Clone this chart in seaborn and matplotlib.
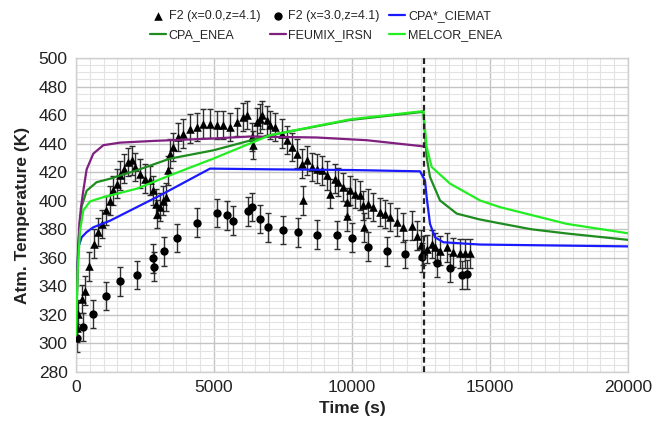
import numpy as np
import pandas as pd
import matplotlib
matplotlib.use("Agg")
import matplotlib.pyplot as plt
from matplotlib.ticker import MultipleLocator
import seaborn as sns

# ---- measured temperatures, F2 sensor at x=0.0, z=4.1 ----
tri_t = [24, 84, 206, 326, 482, 663, 808, 931, 1087, 1232, 1351, 1474, 1594, 1751,
         1896, 2017, 2138, 2319, 2500, 2681, 2802, 2899, 2947, 3043, 3164, 3261,
         3345, 3406, 3526, 3707, 3889, 4130, 4372, 4613, 4855, 5097, 5338, 5580,
         5821, 6063, 6184, 6365, 6401, 6546, 6667, 6727, 6908, 7029, 7210, 7452,
         7633, 7814, 7995, 8176, 8213, 8357, 8539, 8720, 8901, 9083, 9203, 9384,
         9504, 9685, 9806, 9830, 9928, 10109, 10290, 10410, 10446, 10591, 10772,
         11014, 11196, 11377, 11618, 11860, 12162, 12344, 12489, 12585, 12705,
         12887, 13007, 13188, 13430, 13671, 13913, 14094, 14275]
tri_T = [310.7, 320.5, 331.0, 337.0, 354.0, 370.0, 378.0, 383.8, 393.2, 400.0, 407.2,
         411.9, 417.8, 422.5, 427.1, 428.3, 423.6, 419.0, 415.4, 414.2, 407.2, 397.9,
         390.8, 395.5, 400.0, 402.5, 421.3, 433.0, 437.7, 444.7, 447.1, 450.6, 451.7,
         454.0, 454.0, 452.9, 452.9, 451.7, 455.2, 458.7, 460.0, 444.7, 438.9, 455.2,
         457.6, 460.0, 456.4, 452.9, 451.7, 447.0, 442.4, 437.7, 433.0, 426.0, 400.2,
         428.3, 423.6, 422.5, 421.3, 417.8, 404.9, 415.4, 413.1, 409.5, 399.0, 389.0,
         407.2, 404.9, 403.7, 396.7, 381.4, 397.9, 395.5, 392.0, 390.8, 388.5, 385.0,
         381.4, 382.6, 375.6, 369.3, 365.0, 366.2, 369.8, 367.4, 365.0, 367.4, 363.9,
         363.2, 363.2, 363.2]

# ---- measured temperatures, F2 sensor at x=3.0, z=4.1 ----
cir_t = [47, 266, 604, 1075, 1594, 2222, 2802, 2814, 3200, 3671, 4372, 5097, 5483,
         5700, 6220, 6388, 6667, 6967, 7488, 8056, 8744, 9444, 9988, 10591, 11280,
         11920, 12524, 13068, 13551, 13998, 14179]
cir_T = [303.7, 311.6, 320.5, 333.4, 343.5, 348.0, 359.6, 353.8, 364.6, 374.0, 384.7,
         391.3, 389.7, 386.0, 392.5, 395.5, 387.3, 381.4, 379.6, 377.9, 376.3, 376.0,
         374.2, 367.9, 364.6, 362.7, 360.4, 356.4, 352.9, 348.0, 348.4]

meas_err = 10.0  # K, measurement uncertainty

# ---- code predictions ----
ciemat_t = [0, 40, 84, 205, 386, 628, 1232, 3043, 4855, 7000, 10000, 12464, 12645,
            12705, 12826, 13007, 13309, 14638, 20000]
ciemat_T = [310, 345, 367.4, 374.4, 378, 381.4, 386, 403.7, 422.5, 422, 421.5, 420.6,
            414.2, 402.5, 383.8, 374.4, 370.9, 369.3, 368]

enea_t = [0, 80, 205, 386, 749, 1232, 2198, 3406, 4975, 7029, 9900, 12585, 12705,
          12826, 13188, 13793, 14600, 15400, 16500, 17800, 20000]
enea_T = [308, 370, 396, 407, 413, 415.4, 421.3, 429.5, 435.3, 445.9, 456.5, 462.3,
          430.6, 416.6, 400.2, 391.0, 387.0, 384.0, 380.0, 377.0, 372.6]

feumix_t = [0, 60, 121, 181, 266, 386, 628, 990, 1594, 2800, 4975, 6304, 8720, 10531,
            12585]
feumix_T = [305, 355, 383.8, 395.5, 407.2, 422, 433, 438.9, 440.7, 441.9, 443.6,
            445.0, 444.3, 442.4, 438.1]

melcor_t = [0, 60, 145, 266, 507, 990, 2198, 3406, 4975, 7029, 9928, 12585, 12705,
            12887, 13551, 14638, 15362, 17778, 20000]
melcor_T = [306, 350, 379, 393.2, 399.5, 402.5, 408.4, 417.8, 429.5, 445.9, 457.0,
            462.8, 437.7, 423.6, 412.0, 400.2, 395.5, 383.8, 377.2]

t_end_injection = 12600  # s

sns.set_theme(style="white")
plt.rcParams["font.family"] = ["Liberation Sans", "DejaVu Sans"]

fig = plt.figure(figsize=(6.56, 4.28), dpi=100)
ax = fig.add_axes([76 / 656, 1 - 372 / 428, 552 / 656, 314 / 428])

# grid
ax.xaxis.set_major_locator(MultipleLocator(5000))
ax.xaxis.set_minor_locator(MultipleLocator(500))
ax.yaxis.set_major_locator(MultipleLocator(20))
ax.yaxis.set_minor_locator(MultipleLocator(5))
ax.grid(which="minor", color="#e3e3e3", lw=0.8)
ax.grid(which="major", color="#c4c4c4", lw=1.0)
ax.set_axisbelow(True)
for s in ax.spines.values():
    s.set_color("#cfcfcf")
    s.set_linewidth(1.0)

# measurements with error bars
meas_tri = pd.DataFrame({"t": tri_t, "T": tri_T})
meas_cir = pd.DataFrame({"t": cir_t, "T": cir_T})
ax.errorbar(meas_tri["t"], meas_tri["T"], yerr=meas_err, fmt="none",
            ecolor="#2e2e2e", elinewidth=1.0, capsize=2.2, capthick=1.0, zorder=2)
ax.errorbar(meas_cir["t"], meas_cir["T"], yerr=meas_err, fmt="none",
            ecolor="#2e2e2e", elinewidth=1.0, capsize=2.2, capthick=1.0, zorder=2)
sns.scatterplot(data=meas_tri, x="t", y="T", marker="^", s=38, color="black",
                edgecolor="black", linewidth=0, label="F2 (x=0.0,z=4.1)", ax=ax,
                zorder=3)
sns.scatterplot(data=meas_cir, x="t", y="T", marker="o", s=36, color="black",
                edgecolor="black", linewidth=0, label="F2 (x=3.0,z=4.1)", ax=ax,
                zorder=3)

# model curves
models = [
    ("CPA*_CIEMAT", ciemat_t, ciemat_T, "#1a1aff"),
    ("CPA_ENEA", enea_t, enea_T, "#1e8c1e"),
    ("FEUMIX_IRSN", feumix_t, feumix_T, "#7f1f7f"),
    ("MELCOR_ENEA", melcor_t, melcor_T, "#22ee22"),
]
for name, tt, TT, col in models:
    sns.lineplot(x=tt, y=TT, color=col, lw=1.6, label=name, ax=ax,
                 sort=False, estimator=None, zorder=4)

ax.axvline(t_end_injection, color="#222222", lw=1.6, dashes=(2.6, 1.6), zorder=5)

ax.set_xlim(0, 20000)
ax.set_ylim(280, 500)
ax.tick_params(axis="both", which="both", length=0, labelsize=12.5,
               colors="#222222", pad=6)
ax.set_xlabel("Time (s)", fontsize=12.5, fontweight="bold", color="#222222",
              labelpad=4)
ax.set_ylabel("Atm. Temperature (K)", fontsize=12.5, fontweight="bold",
              color="#222222", labelpad=6)

handles, labels = ax.get_legend_handles_labels()
order = ["F2 (x=0.0,z=4.1)", "CPA_ENEA", "F2 (x=3.0,z=4.1)", "FEUMIX_IRSN",
         "CPA*_CIEMAT", "MELCOR_ENEA"]
hmap = dict(zip(labels, handles))
ax.legend([hmap[k] for k in order], order, ncol=3, loc="upper center",
          bbox_to_anchor=(0.497, 0.988), bbox_transform=fig.transFigure,
          frameon=False, fontsize=9.0, handlelength=1.3, handletextpad=0.2,
          columnspacing=0.75, labelspacing=0.55, borderaxespad=0)

fig.savefig("out.png", dpi=100)
